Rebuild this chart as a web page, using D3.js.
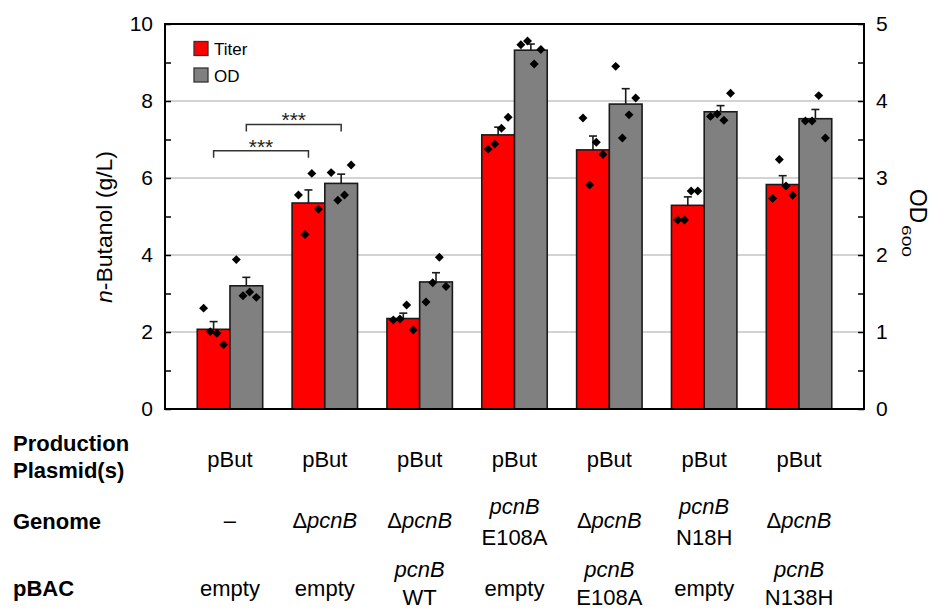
<!DOCTYPE html>
<html>
<head>
<meta charset="utf-8">
<script src="https://cdn.jsdelivr.net/npm/d3@7"></script>
<style>
  body { margin: 0; background: #fff; }
  svg { display: block; font-family: "Liberation Sans", Arial, Helvetica, sans-serif; }
</style>
</head>
<body>
<svg id="chart" width="935" height="609"></svg>
<script>
// ---- data -------------------------------------------------------------
const strains = [
  "WT / empty", "ΔpcnB / empty", "ΔpcnB / pcnB WT", "pcnB E108A / empty",
  "ΔpcnB / pcnB E108A", "pcnB N18H / empty", "ΔpcnB / pcnB N138H"
];
const seriesNames = ["Titer", "OD"];

// n-butanol titer (g/L): mean, upper error, replicate values
const titerMean = [2.07, 5.35, 2.35, 7.12, 6.73, 5.29, 5.83];
const titerErr  = [0.20, 0.34, 0.14, 0.20, 0.36, 0.22, 0.23];
const titerReps = [
  [2.62, 2.01, 1.97, 1.67],
  [5.56, 4.53, 6.12, 5.19],
  [2.31, 2.34, 2.70, 2.05],
  [6.75, 6.88, 7.29, 7.58],
  [7.56, 5.82, 6.93, 6.61],
  [4.91, 4.91, 5.66, 5.66],
  [5.47, 6.48, 5.79, 5.55]
];

// OD600: mean, upper error, replicate values
const odMean = [1.60, 2.93, 1.65, 4.66, 3.96, 3.86, 3.77];
const odErr  = [0.11, 0.12, 0.12, 0.08, 0.20, 0.08, 0.12];
const odReps = [
  [1.94, 1.47, 1.52, 1.45],
  [3.07, 2.71, 2.78, 3.17],
  [1.39, 1.64, 1.97, 1.59],
  [4.73, 4.78, 4.48, 4.67],
  [4.45, 3.52, 3.82, 4.04],
  [3.80, 3.83, 3.75, 4.10],
  [3.74, 3.74, 4.07, 3.52]
];

// significance brackets (level on the titer axis)
const sigPairs = [
  { from: [0, "Titer"], to: [1, "Titer"], level: 6.71, label: "***" },
  { from: [0, "OD"],    to: [1, "OD"],    level: 7.39, label: "***" }
];

// table beneath the plot ("|" separates lines, "pcnB" is set in italics)
const rowLabels   = [["Production", "Plasmid(s)"], ["Genome"], ["pBAC"]];
const plasmidRow  = ["pBut", "pBut", "pBut", "pBut", "pBut", "pBut", "pBut"];
const genomeRow   = ["–", "ΔpcnB", "ΔpcnB", "pcnB|E108A", "ΔpcnB", "pcnB|N18H", "ΔpcnB"];
const pbacRow     = ["empty", "empty", "pcnB|WT", "empty", "pcnB|E108A", "empty", "pcnB|N138H"];

const leftTicks  = d3.range(0, 11, 1);
const rightTicks = d3.range(0, 5.01, 0.5);
const gridValues = [2, 4, 6, 8];

// ---- layout -----------------------------------------------------------
const plot = { left: 165, right: 864, top: 24, bottom: 409 };
const colors = { Titer: "#ff0000", OD: "#808080" };

const svg = d3.select("#chart");

const x0 = d3.scaleBand().domain(strains)
  .range([plot.left, plot.right]).paddingInner(0.31).paddingOuter(0.34);
const x1 = d3.scaleBand().domain(seriesNames).range([0, x0.bandwidth()]);
const yL = d3.scaleLinear().domain([0, 10]).range([plot.bottom, plot.top]);
const yR = d3.scaleLinear().domain([0, 5]).range([plot.bottom, plot.top]);
const yFor = { Titer: yL, OD: yR };
const jitter = d3.scalePoint().domain([0, 1, 2, 3]).range([-10, 10]);

const barCenter = (i, s) => x0(strains[i]) + x1(s) + x1.bandwidth() / 2;

// gridlines
svg.append("g").selectAll("line").data(gridValues).join("line")
  .attr("x1", plot.left).attr("x2", plot.right)
  .attr("y1", d => yL(d)).attr("y2", d => yL(d))
  .attr("stroke", "#c4c4c4").attr("stroke-width", 1.6);

// bars, error bars and replicate points
const rows = strains.map((s, i) => ({
  i,
  series: [
    { key: "Titer", mean: titerMean[i], err: titerErr[i], reps: titerReps[i] },
    { key: "OD",    mean: odMean[i],    err: odErr[i],    reps: odReps[i] }
  ]
}));

const gBars = svg.append("g");
rows.forEach(r => {
  r.series.forEach(d => {
    const y = yFor[d.key];
    const cx = barCenter(r.i, d.key);
    gBars.append("rect")
      .attr("x", x0(strains[r.i]) + x1(d.key))
      .attr("y", y(d.mean))
      .attr("width", x1.bandwidth())
      .attr("height", y(0) - y(d.mean))
      .attr("fill", colors[d.key])
      .attr("stroke", "#1a1a1a").attr("stroke-width", 1.6);
    gBars.append("line")
      .attr("x1", cx).attr("x2", cx)
      .attr("y1", y(d.mean)).attr("y2", y(d.mean + d.err))
      .attr("stroke", "#1a1a1a").attr("stroke-width", 1.6);
    gBars.append("line")
      .attr("x1", cx - 4).attr("x2", cx + 4)
      .attr("y1", y(d.mean + d.err)).attr("y2", y(d.mean + d.err))
      .attr("stroke", "#1a1a1a").attr("stroke-width", 1.6);
  });
});

const diamond = d3.symbol().type(d3.symbolSquare).size(40);
rows.forEach(r => {
  r.series.forEach(d => {
    const y = yFor[d.key];
    const cx = barCenter(r.i, d.key);
    gBars.append("g").selectAll("path").data(d.reps).join("path")
      .attr("d", diamond)
      .attr("transform", (v, k) => `translate(${cx + jitter(k)},${y(v)}) rotate(45)`)
      .attr("fill", "#000");
  });
});

// significance brackets
const gSig = svg.append("g");
sigPairs.forEach(p => {
  const xa = barCenter(p.from[0], p.from[1]);
  const xb = barCenter(p.to[0], p.to[1]);
  const yb = yL(p.level);
  gSig.append("path")
    .attr("d", `M${xa},${yb + 7}V${yb}H${xb}V${yb + 7}`)
    .attr("fill", "none").attr("stroke", "#333").attr("stroke-width", 1.5);
  gSig.append("text")
    .attr("x", (xa + xb) / 2).attr("y", yb + 3)
    .attr("text-anchor", "middle").attr("font-size", 21).attr("fill", "#222")
    .text(p.label);
});

// axes
const leftAxis = d3.axisLeft(yL).tickValues(leftTicks)
  .tickSize(-6).tickSizeOuter(0).tickPadding(12)
  .tickFormat(d => d % 2 === 0 ? d : "");
const rightAxis = d3.axisRight(yR).tickValues(rightTicks)
  .tickSize(-6).tickSizeOuter(0).tickPadding(12)
  .tickFormat(d => Number.isInteger(d) ? d : "");

[svg.append("g").attr("transform", `translate(${plot.left},0)`).call(leftAxis),
 svg.append("g").attr("transform", `translate(${plot.right},0)`).call(rightAxis)]
  .forEach(g => {
    g.select(".domain").remove();
    g.selectAll(".tick line").attr("stroke", "#000").attr("stroke-width", 1.5);
    g.selectAll(".tick text").attr("font-size", 21).attr("fill", "#000")
      .attr("font-family", null);
    g.attr("font-family", null);
  });

// frame
svg.append("rect")
  .attr("x", plot.left).attr("y", plot.top)
  .attr("width", plot.right - plot.left).attr("height", plot.bottom - plot.top)
  .attr("fill", "none").attr("stroke", "#000").attr("stroke-width", 2);

// legend
const legend = svg.append("g");
seriesNames.forEach((s, k) => {
  legend.append("rect")
    .attr("x", 194).attr("y", 41.5 + k * 26.5).attr("width", 14).attr("height", 14)
    .attr("fill", colors[s]).attr("stroke", "#333").attr("stroke-width", 1.3);
  legend.append("text")
    .attr("x", 214).attr("y", 55 + k * 26.5)
    .attr("font-size", 17).attr("fill", "#000").text(s);
});

// axis titles
const leftTitle = svg.append("text")
  .attr("transform", `translate(112,227) rotate(-90)`)
  .attr("text-anchor", "middle").attr("font-size", 22)
  .attr("textLength", 152).attr("lengthAdjust", "spacingAndGlyphs")
  .attr("fill", "#000");
leftTitle.append("tspan").attr("font-style", "italic").text("n");
leftTitle.append("tspan").text("-Butanol (g/L)");

const rightTitle = svg.append("g").attr("transform", "translate(910,189) rotate(90)");
rightTitle.append("text").attr("x", 0).attr("y", 0)
  .attr("font-size", 23).attr("textLength", 34).attr("lengthAdjust", "spacingAndGlyphs")
  .attr("fill", "#000").text("OD");
rightTitle.append("text").attr("x", 36).attr("y", 8)
  .attr("font-size", 13).attr("textLength", 32).attr("lengthAdjust", "spacingAndGlyphs")
  .attr("fill", "#000").text("600");

// table beneath the plot
const table = svg.append("g").attr("fill", "#000");
const rowLabelBaselines = [[451, 478], [529], [596]];
rowLabels.forEach((lines, r) => {
  lines.forEach((line, k) => {
    table.append("text")
      .attr("x", 13).attr("y", rowLabelBaselines[r][k])
      .attr("font-size", 22).attr("font-weight", "bold").text(line);
  });
});

function cellText(value, col, singleBaseline, firstBaseline, lineGap) {
  const lines = value.split("|");
  lines.forEach((line, k) => {
    const y = lines.length === 1 ? singleBaseline : firstBaseline + k * lineGap;
    const t = table.append("text")
      .attr("x", x0(strains[col]) + x0.bandwidth() / 2).attr("y", y)
      .attr("text-anchor", "middle").attr("font-size", 22);
    line.split(/(pcnB)/).filter(p => p.length).forEach(part => {
      t.append("tspan")
        .attr("font-style", part === "pcnB" ? "italic" : null)
        .text(part);
    });
  });
}
plasmidRow.forEach((v, c) => cellText(v, c, 467, 467, 0));
genomeRow.forEach((v, c) => cellText(v, c, 528, 514, 31));
pbacRow.forEach((v, c) => cellText(v, c, 596, 577, 28));
</script>
</body>
</html>
